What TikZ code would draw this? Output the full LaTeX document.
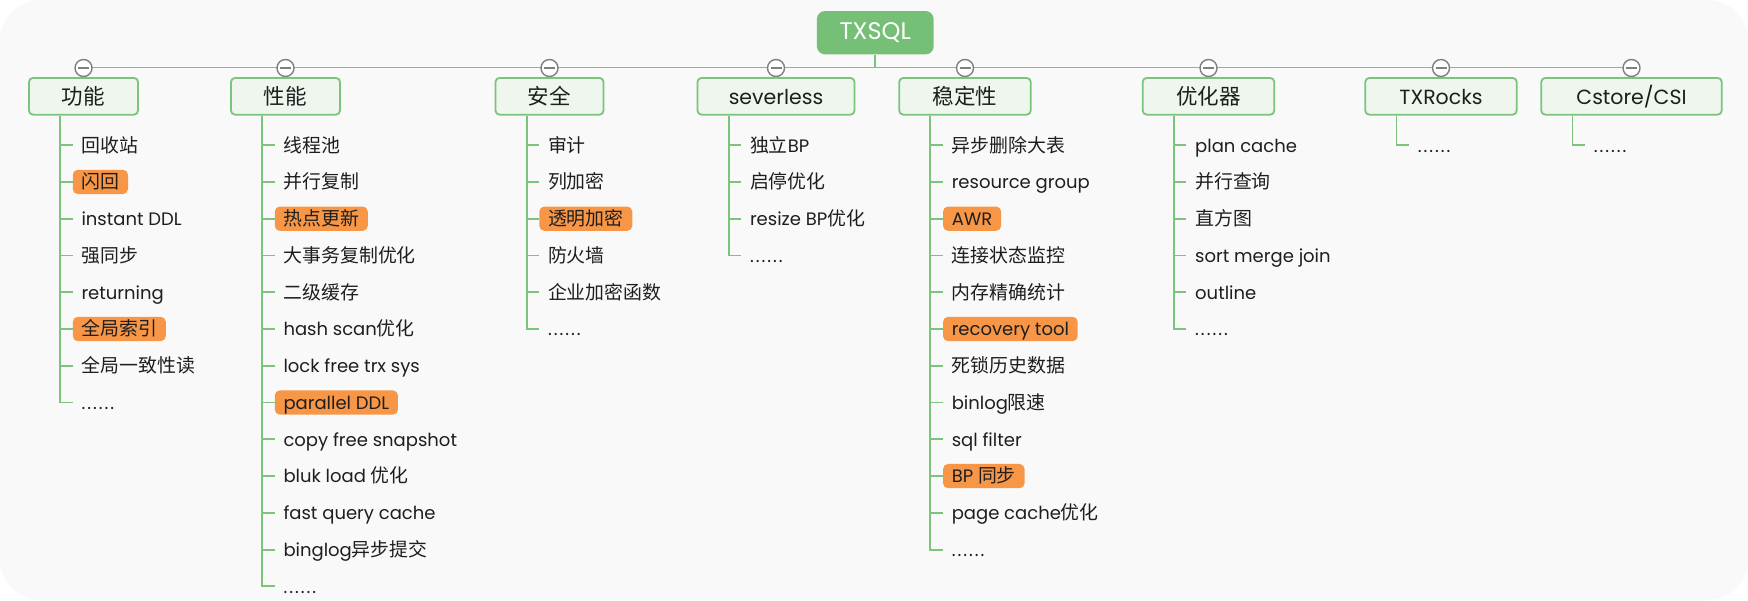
\documentclass[tikz,border=0pt]{standalone}
\usepackage{fontspec}
\setmainfont{Poppins}
\newfontfamily\cjk[Scale=1.05]{Noto Sans CJK SC}
\newcommand\zh[1]{{\cjk #1}}
\newcommand\sixdots{.\kern2pt.\kern2pt.\kern2pt.\kern2pt.\kern2pt.}
\definecolor{bgcol}{HTML}{F9F9F9}
\definecolor{linegreen}{HTML}{7CC47C}
\definecolor{catfill}{HTML}{EEF6EE}
\definecolor{rootgreen}{HTML}{76BF76}
\definecolor{hlorange}{HTML}{F79646}
\definecolor{circgray}{HTML}{808080}
\definecolor{txt}{HTML}{1E1E1E}
\tikzset{
  rootbox/.style={fill=rootgreen, rounded corners=8pt, minimum width=116.7pt, minimum height=43.3pt,
    inner sep=0pt, text=white, font=\fontsize{24}{28}\selectfont},
  catbox/.style={draw=linegreen, line width=1.8pt, fill=catfill, rounded corners=4pt,
    minimum height=36.7pt, inner sep=0pt, text height=18.9pt, text depth=2.6pt,
    text=txt, font=\fontsize{20.5}{24}\selectfont},
  item/.style={anchor=west, inner xsep=8.7pt, inner ysep=0pt, minimum height=24.3pt,
    text height=16.3pt, text depth=2.6pt, text=txt, font=\fontsize{18}{21}\selectfont},
  hl/.style={item, fill=hlorange, rounded corners=5pt},
  conn/.style={draw=linegreen, line width=1.8pt},
  collapse/.style={circle, draw=circgray, fill=white, line width=1.4pt, minimum size=17pt, inner sep=0pt,
    path picture={\draw[circgray, line width=1.4pt]
      ([xshift=-5.5pt]path picture bounding box.center) -- ([xshift=5.5pt]path picture bounding box.center);}},
}
\newcommand\mkbranch[2]{%
  \coordinate (#1-v) at ([xshift=32pt]#1.south west);
  \foreach \txtitem/\stitem [count=\i from 0] in {#2} {
    \path (#1-v) ++(12.5,29.6+36.77*\i) node[\stitem] (#1-\i) {\txtitem};
    \draw[conn] (#1-v) |- (#1-\i.west);
  }
}
\begin{document}
\begin{tikzpicture}[x=1pt,y=-1pt]
\fill[white] (0,0) rectangle (1748,600);
\fill[bgcol, rounded corners=40pt] (0,0) rectangle (1748,600);
\useasboundingbox (0,0) rectangle (1748,600);

% ends of the bus line
\coordinate (k1) at (83.5,67.5);
\coordinate (k8) at (1631.5,67.5);
\node[rootbox] (root) at (875.3,32.7) {TXSQL};
\draw[conn] (k1) -- (k8);
\draw[conn] (root.south) -- (root.south |- k1);

\node[collapse] (c1) at (83.5,68) {};
\node[collapse] (c2) at (285.5,68) {};
\node[collapse] (c3) at (549.5,68) {};
\node[collapse] (c4) at (776,68) {};
\node[collapse] (c5) at (965,68) {};
\node[collapse] (c6) at (1208.5,68) {};
\node[collapse] (c7) at (1441,68) {};
\node[collapse] (c8) at (1631.5,68) {};

\node[catbox, minimum width=109pt] (g1) at (83.5,96.3) {\zh{功能}};
\node[catbox, minimum width=109pt] (g2) at (285.5,96.3) {\zh{性能}};
\node[catbox, minimum width=108pt] (g3) at (549.5,96.3) {\zh{安全}};
\node[catbox, minimum width=157pt] (g4) at (776,96.3) {severless};
\node[catbox, minimum width=131.5pt] (g5) at (965,96.3) {\zh{稳定性}};
\node[catbox, minimum width=131.6pt] (g6) at (1208.5,96.3) {\zh{优化器}};
\node[catbox, minimum width=151.4pt] (g7) at (1441,96.3) {TXRocks};
\node[catbox, minimum width=180.4pt] (g8) at (1631.5,96.3) {Cstore/CSI};

\mkbranch{g1}{{\zh{回收站}}/item, {\zh{闪回}}/hl, {instant DDL}/item, {\zh{强同步}}/item, {returning}/item,
  {\zh{全局索引}}/hl, {\zh{全局一致性读}}/item, {\sixdots}/item}
\mkbranch{g2}{{\zh{线程池}}/item, {\zh{并行复制}}/item, {\zh{热点更新}}/hl, {\zh{大事务复制优化}}/item,
  {\zh{二级缓存}}/item, {hash scan\zh{优化}}/item, {lock free trx sys}/item, {parallel DDL}/hl,
  {copy free snapshot}/item, {bluk load \zh{优化}}/item, {fast query cache}/item,
  {binglog\zh{异步提交}}/item, {\sixdots}/item}
\mkbranch{g3}{{\zh{审计}}/item, {\zh{列加密}}/item, {\zh{透明加密}}/hl, {\zh{防火墙}}/item,
  {\zh{企业加密函数}}/item, {\sixdots}/item}
\mkbranch{g4}{{\zh{独立}BP}/item, {\zh{启停优化}}/item, {resize BP\zh{优化}}/item, {\sixdots}/item}
\mkbranch{g5}{{\zh{异步删除大表}}/item, {resource group}/item, {AWR}/hl, {\zh{连接状态监控}}/item,
  {\zh{内存精确统计}}/item, {recovery tool}/hl, {\zh{死锁历史数据}}/item, {binlog\zh{限速}}/item,
  {sql filter}/item, {BP \zh{同步}}/hl, {page cache\zh{优化}}/item, {\sixdots}/item}
\mkbranch{g6}{{plan cache}/item, {\zh{并行查询}}/item, {\zh{直方图}}/item, {sort merge join}/item,
  {outline}/item, {\sixdots}/item}
\mkbranch{g7}{{\sixdots}/item}
\mkbranch{g8}{{\sixdots}/item}
\end{tikzpicture}
\end{document}
